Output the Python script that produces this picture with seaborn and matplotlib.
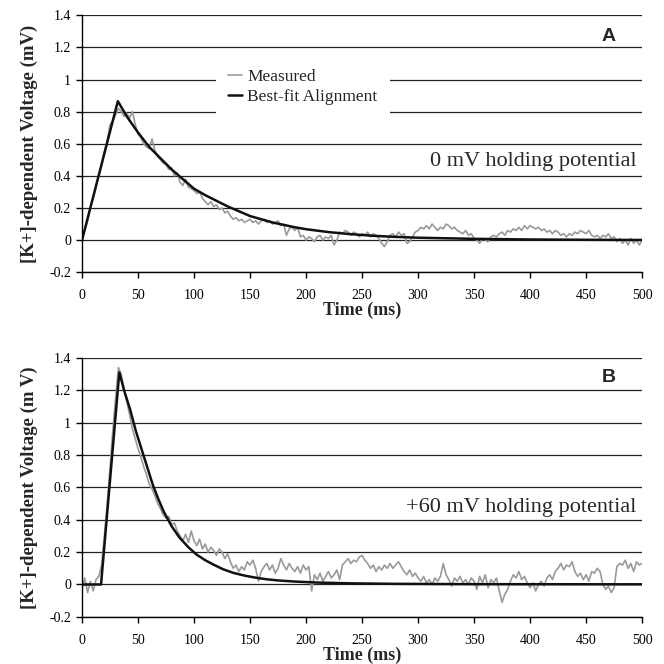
import numpy as np
import pandas as pd
import matplotlib
matplotlib.use("Agg")
import matplotlib.pyplot as plt
import seaborn as sns

# ---------------- data ----------------
# Measured traces sampled every 2.5 ms (0 .. 500 ms)
time_measured = [i * 2.5 for i in range(201)]

measured_A = [
    0.00, 0.06, 0.12, 0.20, 0.26, 0.33, 0.40, 0.46, 0.55, 0.62, 0.72, 0.74, 0.78, 0.82, 0.80, 0.77, 0.79, 0.76, 0.80, 0.72,
    0.66, 0.64, 0.60, 0.58, 0.57, 0.63, 0.56, 0.52, 0.50, 0.48, 0.47, 0.44, 0.45, 0.40, 0.42, 0.36, 0.34, 0.38, 0.33, 0.32,
    0.31, 0.29, 0.30, 0.26, 0.24, 0.22, 0.24, 0.21, 0.22, 0.19, 0.20, 0.17, 0.18, 0.15, 0.13, 0.14, 0.12, 0.13, 0.11, 0.12,
    0.13, 0.11, 0.12, 0.10, 0.12, 0.13, 0.11, 0.12, 0.10, 0.11, 0.12, 0.09, 0.10, 0.03, 0.07, 0.08, 0.06, 0.08, 0.02, 0.03,
    0.00, 0.02, 0.01, -0.01, 0.02, 0.03, 0.00, 0.02, 0.01, 0.03, -0.03, 0.00, 0.05, 0.04, 0.06, 0.05, 0.03, 0.05, 0.04, 0.02,
    0.04, 0.03, 0.05, 0.02, 0.04, 0.03, 0.01, -0.02, -0.04, -0.01, 0.03, 0.04, 0.02, 0.05, 0.03, 0.04, -0.02, -0.01, 0.02, 0.05,
    0.06, 0.08, 0.07, 0.09, 0.07, 0.10, 0.08, 0.06, 0.08, 0.07, 0.10, 0.09, 0.07, 0.08, 0.06, 0.05, 0.04, 0.06, 0.03, 0.04,
    0.01, 0.00, -0.02, 0.01, 0.00, -0.01, 0.02, 0.03, 0.02, 0.04, 0.05, 0.03, 0.06, 0.05, 0.07, 0.06, 0.08, 0.06, 0.09, 0.07,
    0.09, 0.08, 0.07, 0.08, 0.06, 0.07, 0.05, 0.06, 0.04, 0.06, 0.05, 0.03, 0.04, 0.02, 0.04, 0.03, 0.05, 0.04, 0.06, 0.05,
    0.04, 0.06, 0.03, 0.02, 0.03, 0.01, 0.03, 0.02, 0.04, 0.01, 0.02, -0.01, 0.01, -0.02, 0.00, -0.03, 0.01, -0.02, 0.00, -0.03,
    0.00,
]

measured_B = [
    -0.03, 0.04, -0.05, 0.02, -0.04, 0.03, 0.05, 0.12, 0.30, 0.50, 0.72, 0.95, 1.15, 1.34, 1.30, 1.21, 1.13, 1.05, 0.96, 0.90,
    0.84, 0.79, 0.73, 0.68, 0.62, 0.59, 0.55, 0.50, 0.47, 0.43, 0.41, 0.42, 0.37, 0.38, 0.33, 0.30, 0.27, 0.31, 0.26, 0.33,
    0.27, 0.24, 0.28, 0.22, 0.25, 0.20, 0.23, 0.21, 0.18, 0.22, 0.20, 0.16, 0.19, 0.14, 0.10, 0.12, 0.08, 0.11, 0.09, 0.14,
    0.12, 0.15, 0.10, 0.02, 0.08, 0.11, 0.13, 0.09, 0.12, 0.07, 0.10, 0.16, 0.12, 0.09, 0.13, 0.10, 0.08, 0.11, 0.07, 0.12,
    0.09, 0.11, -0.04, 0.06, 0.03, 0.07, 0.02, 0.05, 0.08, 0.04, 0.06, 0.09, 0.03, 0.12, 0.14, 0.16, 0.13, 0.15, 0.14, 0.17,
    0.18, 0.15, 0.13, 0.10, 0.12, 0.08, 0.11, 0.09, 0.12, 0.10, 0.13, 0.10, 0.12, 0.14, 0.11, 0.08, 0.06, 0.09, 0.05, 0.07,
    0.04, 0.02, 0.05, 0.01, 0.03, 0.00, 0.04, 0.02, 0.05, 0.13, 0.06, 0.03, -0.01, 0.04, 0.02, 0.05, 0.01, 0.03, 0.00, 0.04,
    0.02, -0.03, 0.05, 0.01, 0.06, -0.02, 0.03, 0.01, 0.04, -0.04, -0.11, -0.06, -0.03, 0.02, 0.06, 0.04, 0.08, 0.03, 0.05, 0.01,
    -0.02, 0.01, -0.04, 0.00, 0.02, -0.01, 0.04, 0.06, 0.03, 0.08, 0.10, 0.13, 0.09, 0.12, 0.11, 0.14, 0.08, 0.05, 0.07, 0.03,
    0.06, 0.02, 0.08, 0.07, 0.10, 0.08, 0.00, -0.03, -0.01, -0.05, -0.02, 0.11, 0.13, 0.12, 0.15, 0.10, 0.13, 0.08, 0.14, 0.12,
    0.13,
]

# Best-fit curves
fit_time_A = [0, 32, 40, 50, 60, 70, 80, 90, 100, 110, 120, 130, 140, 150, 160, 170, 180, 190, 200,
              220, 240, 260, 280, 300, 350, 400, 450, 500]
fit_A = [0.0, 0.865, 0.77, 0.67, 0.58, 0.51, 0.44, 0.38, 0.32, 0.28, 0.245, 0.21, 0.18, 0.15, 0.13, 0.11,
         0.095, 0.08, 0.068, 0.05, 0.037, 0.027, 0.02, 0.015, 0.008, 0.004, 0.002, 0.001]

fit_time_B = [0, 17, 33.3, 38, 43, 48, 53, 58, 63, 68, 73, 80, 87, 95, 102, 110, 117, 126, 135, 145,
              155, 165, 175, 190, 210, 240, 280, 350, 500]
fit_B = [0.0, 0.0, 1.31, 1.19, 1.08, 0.95, 0.84, 0.73, 0.62, 0.53, 0.45, 0.36, 0.29, 0.23, 0.186, 0.15,
         0.124, 0.094, 0.072, 0.055, 0.042, 0.032, 0.025, 0.018, 0.012, 0.007, 0.004, 0.002, 0.001]

y_ticks = [-0.2, 0, 0.2, 0.4, 0.6, 0.8, 1.0, 1.2, 1.4]
x_ticks = [0, 50, 100, 150, 200, 250, 300, 350, 400, 450, 500]

# ---------------- style ----------------
sns.set_style("ticks")
plt.rcParams['font.family'] = ['Liberation Serif', 'DejaVu Serif']
plt.rcParams['axes.unicode_minus'] = False

fig = plt.figure(figsize=(6.64, 6.64), dpi=100)
axA = fig.add_axes([0.1235, 0.590, 0.8435, 0.387])
axB = fig.add_axes([0.1235, 0.071, 0.8435, 0.390])

def style_axis(ax, ylabel):
    ax.set_xlim(0, 500)
    ax.set_ylim(-0.2, 1.4)
    ax.set_xticks(x_ticks)
    ax.set_yticks(y_ticks)
    ax.set_yticklabels([f"{v:g}" for v in y_ticks])
    ax.set_xticklabels([str(v) for v in x_ticks])
    ax.grid(axis='y', color='#222222', lw=0.9)
    ax.grid(axis='x', visible=False)
    ax.set_axisbelow(True)
    for s in ['top', 'right']:
        ax.spines[s].set_visible(False)
    for s in ['left', 'bottom']:
        ax.spines[s].set_color('black')
        ax.spines[s].set_linewidth(1.0)
    ax.tick_params(axis='both', colors='black', labelsize=10, length=4, width=1, direction='out')
    ax.tick_params(axis='x', pad=8)
    ax.tick_params(axis='y', pad=4)
    ax.set_xlabel("Time (ms)", fontsize=13, fontweight='bold', labelpad=0)
    ax.set_ylabel(ylabel, fontsize=13.5, fontweight='bold', labelpad=8)

dfA = pd.DataFrame({'t': time_measured, 'v': measured_A})
dfAf = pd.DataFrame({'t': fit_time_A, 'v': fit_A})
sns.lineplot(data=dfA, x='t', y='v', ax=axA, color='#9a9a9a', lw=1.2, label='Measured', sort=False, estimator=None)
sns.lineplot(data=dfAf, x='t', y='v', ax=axA, color='#111111', lw=1.8, label='Best-fit Alignment', sort=False, estimator=None)
style_axis(axA, "[K+]-dependent Voltage (mV)")
leg = axA.legend(loc='upper left', bbox_to_anchor=(0.239, 0.84), frameon=True, fancybox=False,
                 facecolor='white', edgecolor='none', framealpha=1, fontsize=12.5,
                 handlelength=0.8, handletextpad=0.3, labelspacing=0.25, borderpad=0.7, borderaxespad=0)
axA.text(495, 0.49, "0 mV holding potential", fontsize=16, ha='right', va='center')
axA.text(470, 1.27, "A", family='Liberation Sans', fontweight='bold', fontsize=14, ha='center', va='center')

dfB = pd.DataFrame({'t': time_measured, 'v': measured_B})
dfBf = pd.DataFrame({'t': fit_time_B, 'v': fit_B})
sns.lineplot(data=dfB, x='t', y='v', ax=axB, color='#9a9a9a', lw=1.2, sort=False, estimator=None, legend=False)
sns.lineplot(data=dfBf, x='t', y='v', ax=axB, color='#111111', lw=1.8, sort=False, estimator=None, legend=False)
style_axis(axB, "[K+]-dependent Voltage (m V)")
axB.text(495, 0.475, "+60 mV holding potential", fontsize=16, ha='right', va='center')
axB.text(470, 1.28, "B", family='Liberation Sans', fontweight='bold', fontsize=14, ha='center', va='center')

fig.savefig("out.png", dpi=100, facecolor='white')
